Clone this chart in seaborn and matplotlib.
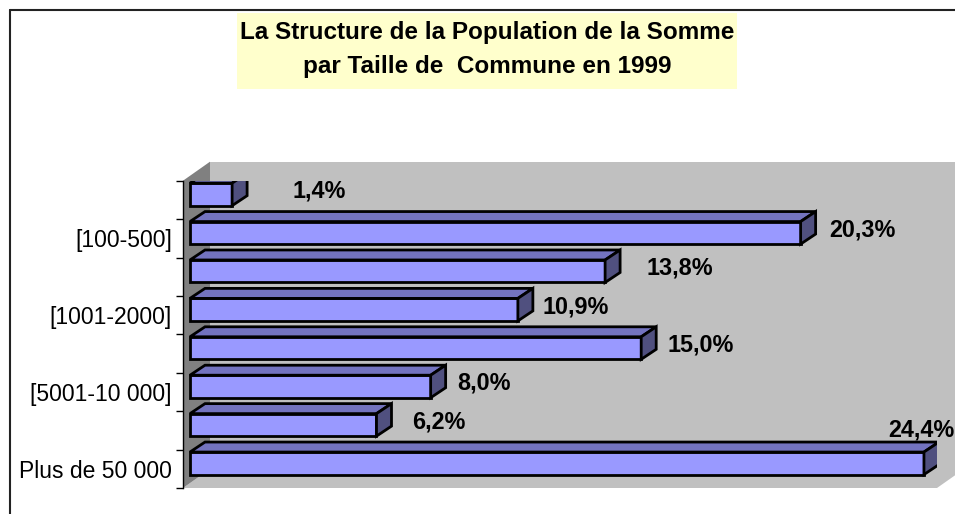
import matplotlib
matplotlib.use("Agg")
import matplotlib.pyplot as plt
import seaborn as sns
import pandas as pd
from matplotlib.patches import Polygon, Rectangle
from matplotlib.lines import Line2D

# ---------------- data ----------------
categories = ["Moins de 100", "[100-500]", "[501-1000]", "[1001-2000]",
              "[2001-5000]", "[5001-10 000]", "[10 001-50 000]", "Plus de 50 000"]
shown_labels = ["", "[100-500]", "", "[1001-2000]", "", "[5001-10 000]", "", "Plus de 50 000"]
values = [1.4, 20.3, 13.8, 10.9, 15.0, 8.0, 6.2, 24.4]
value_labels = ["1,4%", "20,3%", "13,8%", "10,9%", "15,0%", "8,0%", "6,2%", "24,4%"]
title_lines = ["La Structure de la Population de la Somme", "par Taille de  Commune en 1999"]

# label nudges (pixels, relative to bar end)
label_dx = [60, 29, 41, 25, 26, 27, 36, -36]
label_dy = [3, 3, 3, 3, 3, 3, 3, 33]

df = pd.DataFrame({"cat": categories, "val": values})

sns.set_theme(style="white")
plt.rcParams["font.family"] = ["Liberation Sans", "DejaVu Sans"]

W, H = 955, 514
fig = plt.figure(figsize=(W / 100, H / 100), dpi=100)
fig.patch.set_facecolor("white")

# axes geometry (pixels)
ax_l, ax_r, ax_t, ax_b = 183, 937, 180.7, 488
ax = fig.add_axes([ax_l / W, 1 - ax_b / H, (ax_r - ax_l) / W, (ax_b - ax_t) / H])
ax.set_facecolor("none")

px_per_unit = 30.08
zero_px = 190
x_left = (ax_l - zero_px) / px_per_unit
x_right = (ax_r - zero_px) / px_per_unit

bar_w = 0.586
sns.barplot(data=df, x="val", y="cat", orient="h", color="#9999FF",
            saturation=1, edgecolor="black", linewidth=2.0, width=bar_w,
            ax=ax, zorder=3)

ax.set_xlim(x_left, x_right)
ax.set_ylim(len(categories) - 0.5, -0.5)

band_px = (ax_b - ax_t) / len(categories)
shift = 5.5 / band_px
ddx = 15 / px_per_unit
ddy = 10 / band_px

for p in ax.patches:
    p.set_y(p.get_y() - shift)

front_patches = list(ax.patches)
for p, lab, dx, dy in zip(front_patches, value_labels, label_dx, label_dy):
    x0, y0, w, h = p.get_x(), p.get_y(), p.get_width(), p.get_height()
    x1 = x0 + w
    top = Polygon([(x0, y0), (x1, y0), (x1 + ddx, y0 - ddy), (x0 + ddx, y0 - ddy)],
                  closed=True, facecolor="#7373BF", edgecolor="black", lw=2.0,
                  joinstyle="miter", zorder=3)
    side = Polygon([(x1, y0), (x1, y0 + h), (x1 + ddx, y0 + h - ddy), (x1 + ddx, y0 - ddy)],
                   closed=True, facecolor="#50507F", edgecolor="black", lw=2.0,
                   joinstyle="miter", zorder=3)
    ax.add_patch(top)
    ax.add_patch(side)
    ax.annotate(lab, xy=(x1, y0 + h / 2), xytext=(dx, dy), textcoords="offset pixels",
                ha="left", va="center", fontsize=16.8, fontweight="bold", color="black",
                annotation_clip=False, zorder=5)

# walls (axes fraction)
dxf = 27 / (ax_r - ax_l)
dyf = 19 / (ax_b - ax_t)
tr = ax.transAxes
ax.add_patch(Rectangle((dxf, dyf), 1, 1, transform=tr, facecolor="#C0C0C0",
                       edgecolor="none", clip_on=False, zorder=0.5))
ax.add_patch(Polygon([(0, 0), (1, 0), (1 + dxf, dyf), (dxf, dyf)], closed=True, transform=tr,
                     facecolor="#C0C0C0", edgecolor="none", clip_on=False, zorder=0.6))
ax.add_patch(Polygon([(0, 0), (dxf, dyf), (dxf, 1 + dyf), (0, 1)], closed=True, transform=tr,
                     facecolor="#808080", edgecolor="none", clip_on=False, zorder=0.7))

# axes styling
for s in ["top", "right", "bottom"]:
    ax.spines[s].set_visible(False)
ax.spines["left"].set_color("black")
ax.spines["left"].set_linewidth(1.0)
ax.spines["left"].set_zorder(4)
ax.set_xticks([])
ax.set_xlabel("")
ax.set_ylabel("")
ax.set_yticks(range(len(categories)))
ax.set_yticklabels(shown_labels, fontsize=16.5, color="black")
ax.set_yticks([k - 0.5 for k in range(len(categories) + 1)], minor=True)
ax.tick_params(axis="y", which="major", length=0, pad=8)
ax.tick_params(axis="y", which="minor", length=5, width=1, color="black", direction="out", left=True)

# frame around the chart area
fig.add_artist(Line2D([10 / W, 10 / W], [0, 1 - 10 / H], color="#222222", lw=1.5))
fig.add_artist(Line2D([10 / W, 1], [1 - 10 / H, 1 - 10 / H], color="#222222", lw=1.5))

# title with yellow box
fig.add_artist(Rectangle((237 / W, 1 - 89 / H), 500 / W, 76 / H, transform=fig.transFigure,
                         facecolor="#FFFFCC", edgecolor="none", zorder=1))
fig.text(487 / W, 1 - 33 / H, title_lines[0], ha="center", va="center",
         fontsize=17.5, fontweight="bold", color="black", zorder=2)
fig.text(487 / W, 1 - 66 / H, title_lines[1], ha="center", va="center",
         fontsize=17.5, fontweight="bold", color="black", zorder=2)

fig.savefig("out.png", dpi=100)
